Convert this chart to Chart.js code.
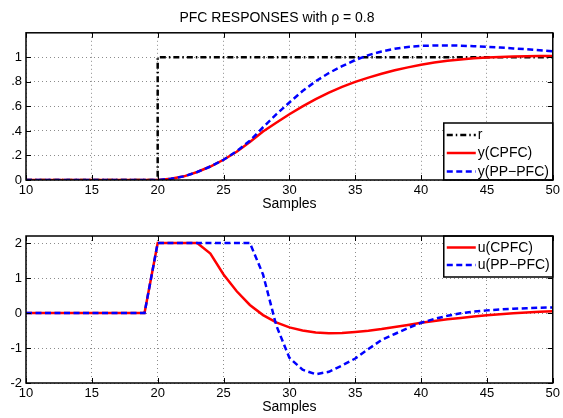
<!DOCTYPE html>
<html><head><meta charset="utf-8">
<script src="https://cdn.jsdelivr.net/npm/chart.js@4"></script>
<style>
html,body{margin:0;padding:0;background:#fff;}
#wrap{position:relative;width:563px;height:418px;overflow:hidden;}
.box{position:absolute;left:0;width:563px;}
</style></head><body>
<div id="wrap">
<div class="box" style="top:0;height:215px"><canvas id="c1"></canvas></div>
<div class="box" style="top:215px;height:203px"><canvas id="c2"></canvas></div>
</div>
<script>
// ---------- data ----------
const samples = [10,11,12,13,14,15,16,17,18,19,20,21,22,23,24,25,26,27,28,29,30,31,32,33,34,35,36,37,38,39,40,41,42,43,44,45,46,47,48,49,50];
const refX = [10,20,20,50];
const refY = [0,0,1,1];
const yCPFC = [0,0,0,0,0,0,0,0,0,0,0,0.01,0.03,0.065,0.11,0.165,0.23,0.31,0.395,0.467,0.536,0.6,0.66,0.713,0.759,0.8,0.835,0.866,0.894,0.918,0.94,0.958,0.972,0.983,0.992,0.998,1.003,1.006,1.008,1.01,1.011];
const yPPPFC = [0,0,0,0,0,0,0,0,0,0,0,0.01,0.03,0.065,0.11,0.165,0.235,0.32,0.43,0.535,0.632,0.725,0.805,0.872,0.928,0.978,1.018,1.048,1.07,1.085,1.093,1.097,1.097,1.095,1.091,1.086,1.08,1.073,1.066,1.058,1.05];
const uCPFC = [0,0,0,0,0,0,0,0,0,0,2,2,2,2,1.7,1.1,0.62,0.23,-0.06,-0.27,-0.41,-0.5,-0.56,-0.58,-0.57,-0.54,-0.51,-0.46,-0.4,-0.34,-0.28,-0.23,-0.18,-0.14,-0.1,-0.066,-0.035,-0.01,0.015,0.035,0.05];
const uPPPFC = [0,0,0,0,0,0,0,0,0,0,2,2,2,2,2,2,2,2,1.1,-0.35,-1.28,-1.62,-1.75,-1.68,-1.5,-1.3,-1.03,-0.77,-0.6,-0.43,-0.28,-0.17,-0.08,-0.01,0.04,0.075,0.1,0.12,0.137,0.15,0.16];
const xTickValues = [10,15,20,25,30,35,40,45,50];
const topYTickValues = [0,0.2,0.4,0.6,0.8,1];
const topYTickLabels = ['0','.2','.4','.6','.8','1'];
const botYTickValues = [-2,-1,0,1,2];
const botYTickLabels = ['-2','-1','0','1','2'];
const titleText = 'PFC RESPONSES with \u03C1 = 0.8';
const xLabel = 'Samples';

// ---------- helpers ----------
const FONT = "'Liberation Sans', Arial, Helvetica, sans-serif";
const pts = (xs, ys) => xs.map((x, i) => ({x: x, y: ys[i]}));

const frame = {
  id: 'frame',
  afterDraw(chart, args, opts) {
    const ctx = chart.ctx, ca = chart.chartArea;
    ctx.save();
    ctx.strokeStyle = '#000';
    ctx.lineWidth = 1;
    ctx.setLineDash([]);
    const tl = 5;
    const xs = chart.scales.x, ys = chart.scales.y;
    ctx.beginPath();
    xs.ticks.forEach(t => {
      const px = Math.round(xs.getPixelForValue(t.value)) + 0.5;
      ctx.moveTo(px, ca.bottom); ctx.lineTo(px, ca.bottom - tl);
      ctx.moveTo(px, ca.top); ctx.lineTo(px, ca.top + tl);
    });
    ys.ticks.forEach(t => {
      const py = Math.round(ys.getPixelForValue(t.value)) + 0.5;
      ctx.moveTo(ca.left, py); ctx.lineTo(ca.left + tl, py);
      ctx.moveTo(ca.right, py); ctx.lineTo(ca.right - tl, py);
    });
    ctx.stroke();
    // legend
    const L = opts.legend;
    if (L) {
      const x0 = ca.right - L.width;
      const y0 = L.atTop ? ca.top : ca.bottom - L.height;
      ctx.fillStyle = '#fff';
      ctx.fillRect(x0, y0, L.width, L.height);
      ctx.lineWidth = 1.5;
      ctx.strokeStyle = '#000';
      ctx.strokeRect(x0, y0, L.width, L.height);
      chart.data.datasets.forEach((ds, i) => {
        const y = y0 + L.rows[i];
        ctx.save();
        ctx.strokeStyle = ds.borderColor;
        ctx.lineWidth = ds.borderWidth;
        ctx.setLineDash(ds.borderDash || []);
        ctx.beginPath();
        ctx.moveTo(x0 + 3, y); ctx.lineTo(x0 + 32, y);
        ctx.stroke();
        ctx.restore();
        ctx.fillStyle = '#000';
        ctx.font = L.fontSize + 'px ' + FONT;
        ctx.textBaseline = 'middle';
        ctx.textAlign = 'left';
        ctx.fillText(ds.label, x0 + 34, y + 0.5);
      });
    }
    // axes box
    ctx.lineWidth = 1.5;
    ctx.strokeStyle = '#000';
    ctx.strokeRect(ca.left, ca.top, ca.right - ca.left, ca.bottom - ca.top);
    ctx.restore();
  }
};

function makeOptions(yMin, yMax, yVals, yLabels, extra) {
  return {
    responsive: true,
    maintainAspectRatio: false,
    animation: false,
    layout: {padding: {top: extra.padTop, right: 9, left: 0, bottom: 0}},
    elements: {point: {radius: 0}, line: {tension: 0}},
    plugins: {
      legend: {display: false},
      tooltip: {enabled: false},
      title: extra.title ? {
        display: true, text: extra.title, color: '#000',
        font: {family: FONT, size: 14, weight: 'normal'},
        padding: {top: 10, bottom: 6}
      } : {display: false},
      frame: {legend: extra.legend}
    },
    scales: {
      x: {
        type: 'linear', min: 10, max: 50,
        afterBuildTicks: s => { s.ticks = xTickValues.map(v => ({value: v})); },
        afterFit: s => { s.height = 35; },
        ticks: {color: '#000', font: {family: FONT, size: 13}, padding: 3, maxRotation: 0, autoSkip: false,
          callback: v => String(v)},
        grid: {color: 'rgba(0,0,0,0.45)', lineWidth: 1, drawTicks: false},
        border: {display: false, dash: [1, 3]},
        title: {display: true, text: xLabel, color: '#000', font: {family: FONT, size: 14}, padding: {top: 0, bottom: 2}}
      },
      y: {
        min: yMin, max: yMax,
        afterBuildTicks: s => { s.ticks = yVals.map(v => ({value: v})); },
        afterFit: s => { s.width = 26; },
        ticks: {color: '#000', font: {family: FONT, size: 13}, padding: 4, autoSkip: false,
          callback: (v, i) => yLabels[i]},
        grid: {color: 'rgba(0,0,0,0.45)', lineWidth: 1, drawTicks: false},
        border: {display: false, dash: [1, 3]}
      }
    }
  };
}

new Chart(document.getElementById('c1'), {
  type: 'line',
  data: {
    datasets: [
      {label: 'r', data: pts(refX, refY), borderColor: '#000', borderWidth: 2.5, borderDash: [6, 3, 1.5, 3], order: 2, fill: false},
      {label: 'y(CPFC)', data: pts(samples, yCPFC), borderColor: '#ff0000', borderWidth: 2.5, order: 1, fill: false},
      {label: 'y(PP\u2212PFC)', data: pts(samples, yPPPFC), borderColor: '#0000ff', borderWidth: 2.5, borderDash: [6, 3.5], order: 0, fill: false}
    ]
  },
  options: makeOptions(0, 1.2, topYTickValues, topYTickLabels,
    {padTop: 0, title: titleText, legend: {width: 109, height: 57, atTop: false, rows: [12, 30, 48.5], fontSize: 14}}),
  plugins: [frame]
});

new Chart(document.getElementById('c2'), {
  type: 'line',
  data: {
    datasets: [
      {label: 'u(CPFC)', data: pts(samples, uCPFC), borderColor: '#ff0000', borderWidth: 2.5, order: 1, fill: false},
      {label: 'u(PP\u2212PFC)', data: pts(samples, uPPPFC), borderColor: '#0000ff', borderWidth: 2.5, borderDash: [6, 3.5], order: 0, fill: false}
    ]
  },
  options: makeOptions(-2, 2.2, botYTickValues, botYTickLabels,
    {padTop: 21, title: null, legend: {width: 109, height: 41, atTop: true, rows: [11.5, 29], fontSize: 14}}),
  plugins: [frame]
});
</script>
</body></html>
